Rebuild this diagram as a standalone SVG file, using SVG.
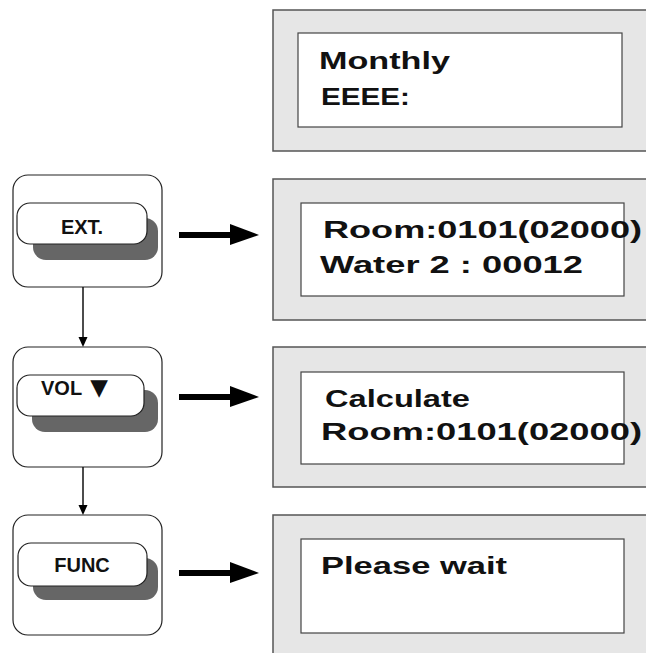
<svg xmlns="http://www.w3.org/2000/svg" width="646" height="653" viewBox="0 0 646 653">
<style>
.pad{fill:#fff;stroke:#222;stroke-width:1.2}
.btn{fill:#fff;stroke:#222;stroke-width:1.2}
.shadow{fill:#666}
.btxt{font-family:"Liberation Sans","DejaVu Sans",Arial,sans-serif;font-weight:bold;font-size:20px;fill:#111;text-anchor:middle}
.outer{fill:#e6e6e6;stroke:#555;stroke-width:1.5}
.inner{fill:#fff;stroke:#444;stroke-width:1.2}
.dtxt{font-family:"Liberation Sans",Arial,sans-serif;font-weight:bold;font-size:24.5px;fill:#111}
.vline{stroke:#111;stroke-width:1.5;fill:none}
.head{fill:#000}
</style>
<rect width="646" height="653" fill="#fff"/>

<g id="display1">
<rect class="outer" x="273" y="10" width="390" height="141"/>
<rect class="inner" x="298" y="33" width="324" height="94"/>
<text class="dtxt" x="319" y="69" textLength="131" lengthAdjust="spacingAndGlyphs">Monthly</text>
<text class="dtxt" x="321" y="105" textLength="89" lengthAdjust="spacingAndGlyphs">EEEE:</text>
</g>

<g id="display2">
<rect class="outer" x="273" y="179" width="390" height="141"/>
<rect class="inner" x="301" y="203" width="323" height="93"/>
<text class="dtxt" x="323" y="238" textLength="319" lengthAdjust="spacingAndGlyphs">Room:0101(02000)</text>
<text class="dtxt" x="320" y="273" textLength="263" lengthAdjust="spacingAndGlyphs">Water 2 : 00012</text>
</g>

<g id="display3">
<rect class="outer" x="273" y="347" width="390" height="140"/>
<rect class="inner" x="301" y="372" width="323" height="92"/>
<text class="dtxt" x="325" y="407" textLength="145" lengthAdjust="spacingAndGlyphs">Calculate</text>
<text class="dtxt" x="321" y="440" textLength="321" lengthAdjust="spacingAndGlyphs">Room:0101(02000)</text>
</g>

<g id="display4">
<rect class="outer" x="273" y="515" width="390" height="160"/>
<rect class="inner" x="301" y="539" width="323" height="94"/>
<text class="dtxt" x="321" y="574" textLength="186" lengthAdjust="spacingAndGlyphs">Please wait</text>
</g>

<g id="key-ext">
<rect class="pad" x="13" y="175" width="149" height="112" rx="15"/>
<rect class="shadow" x="33" y="218" width="125" height="42" rx="13"/>
<rect class="btn" x="17" y="203" width="130" height="41" rx="13"/>
<text class="btxt" x="82" y="234">EXT.</text>
</g>

<g id="key-vol">
<rect class="pad" x="13" y="347" width="149" height="120" rx="15"/>
<rect class="shadow" x="32" y="390" width="126" height="42" rx="13"/>
<rect class="btn" x="17" y="375" width="127" height="41" rx="13"/>
<text class="btxt" x="41" y="395" style="text-anchor:start">VOL <tspan dx="3" font-family="DejaVu Sans,sans-serif" font-size="23">▼</tspan></text>
</g>

<g id="key-func">
<rect class="pad" x="13" y="515" width="149" height="120" rx="15"/>
<rect class="shadow" x="33" y="558" width="125" height="42" rx="13"/>
<rect class="btn" x="18" y="543" width="129" height="43" rx="13"/>
<text class="btxt" x="82" y="572">FUNC</text>
</g>

<g id="connectors">
<line class="vline" x1="83" y1="287" x2="83" y2="338"/>
<polygon class="head" points="78.5,337 87.5,337 83,347"/>
<line class="vline" x1="83" y1="467" x2="83" y2="506"/>
<polygon class="head" points="78.5,505 87.5,505 83,515"/>

<rect class="head" x="179" y="232" width="52" height="6"/>
<polygon class="head" points="230,224 259,235 230,245"/>
<rect class="head" x="179" y="394" width="52" height="6"/>
<polygon class="head" points="230,386 259,397 230,407"/>
<rect class="head" x="179" y="570" width="52" height="6"/>
<polygon class="head" points="230,562 259,573 230,583"/>
</g>
</svg>
